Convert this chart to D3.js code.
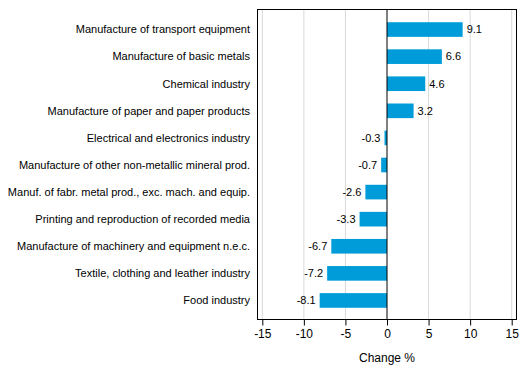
<!DOCTYPE html>
<html><head><meta charset="utf-8">
<script src="https://cdn.jsdelivr.net/npm/d3@7"></script>
<style>body{margin:0;background:#fff}svg{display:block;font-family:"Liberation Sans",Arial,sans-serif}</style>
</head><body><svg id="c" width="529" height="378"></svg>
<script>
const categories = ["Manufacture of transport equipment","Manufacture of basic metals","Chemical industry","Manufacture of paper and paper products","Electrical and electronics industry","Manufacture of other non-metallic mineral prod.","Manuf. of fabr. metal prod., exc. mach. and equip.","Printing and reproduction of recorded media","Manufacture of machinery and equipment n.e.c.","Textile, clothing and leather industry","Food industry"];
const values = [9.1,6.6,4.6,3.2,-0.3,-0.7,-2.6,-3.3,-6.7,-7.2,-8.1];
const xTicks = [-15,-10,-5,0,5,10,15];
const axisTitle = "Change %";

const svg = d3.select("#c");
const L=257.5, R=516.5, T=9.5, B=319.5;
const x = d3.scaleLinear().domain([-15,15]).range([262.3,511.7]);
const y = d3.scaleBand().domain(categories).range([16,314]).paddingInner(0.46).paddingOuter(0.23);

svg.append("g").selectAll("line").data(xTicks.filter(d=>d!==0)).join("line")
  .attr("x1",d=>x(d)).attr("x2",d=>x(d)).attr("y1",T).attr("y2",B)
  .attr("stroke","#d9d9d9").attr("stroke-width",1);

svg.append("g").selectAll("rect").data(values).join("rect")
  .attr("x",(d)=>x(Math.min(0,d))).attr("width",d=>Math.abs(x(d)-x(0)))
  .attr("y",(d,i)=>y(categories[i])).attr("height",y.bandwidth())
  .attr("fill","#009cd9");

svg.append("line").attr("x1",x(0)).attr("x2",x(0)).attr("y1",T).attr("y2",B).attr("stroke","#000").attr("stroke-width",1);

svg.append("rect").attr("x",L).attr("y",T).attr("width",R-L).attr("height",B-T)
  .attr("fill","none").attr("stroke","#000").attr("stroke-width",1);

svg.append("g").selectAll("text").data(values).join("text")
  .attr("x",d=>d>=0? x(d)+4 : x(d)-4)
  .attr("y",(d,i)=>y(categories[i])+y.bandwidth()/2)
  .attr("dy","0.35em").attr("text-anchor",d=>d>=0?"start":"end")
  .attr("font-size",11).attr("fill","#000").text(d=>d.toFixed(1));

svg.append("g").selectAll("text").data(categories).join("text")
  .attr("x",250).attr("y",d=>y(d)+y.bandwidth()/2).attr("dy","0.35em")
  .attr("text-anchor","end").attr("font-size",11).attr("fill","#000").text(d=>d);

const ax = svg.append("g").attr("transform",`translate(0,${B})`)
  .call(d3.axisBottom(x).tickValues(xTicks).tickFormat(d=>String(d)).tickSize(6).tickPadding(4).tickSizeOuter(0));
ax.select(".domain").remove();
ax.selectAll("text").attr("font-size",12).attr("fill","#000").attr("font-family","Liberation Sans, Arial, sans-serif");
ax.selectAll("line").attr("stroke","#000");

svg.append("text").attr("x",x(0)).attr("y",362).attr("text-anchor","middle")
  .attr("font-size",12).attr("fill","#000").text(axisTitle);
</script></body></html>
